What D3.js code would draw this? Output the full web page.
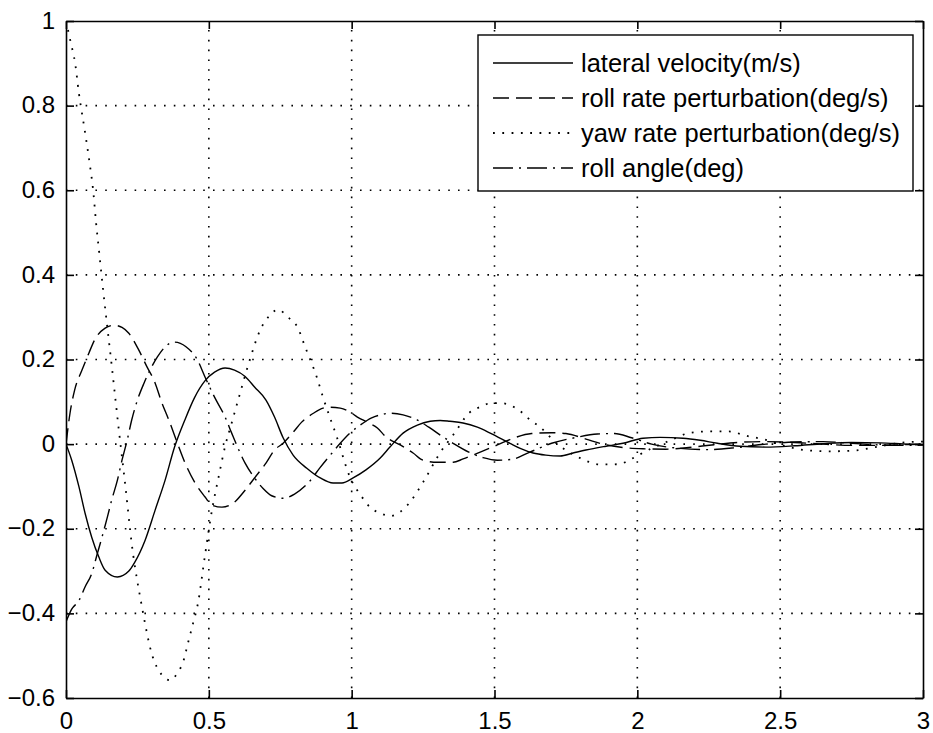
<!DOCTYPE html>
<html>
<head>
<meta charset="utf-8">
<script src="https://cdn.jsdelivr.net/npm/d3@7"></script>
<style>
  body { margin: 0; background: #fff; }
  text { font-family: "Liberation Sans", Arial, sans-serif; fill: #000; }
</style>
</head>
<body>
<svg id="chart"></svg>
<script>
// time (s) and values
const tLat = [0, 0.02, 0.045, 0.067, 0.09, 0.115, 0.137, 0.18, 0.22, 0.24, 0.277, 0.312, 0.347, 0.38, 0.416, 0.45, 0.487, 0.52, 0.557, 0.59, 0.627, 0.66, 0.70, 0.73, 0.76, 0.795, 0.843, 0.89, 0.935, 0.966, 1.005, 1.05, 1.10, 1.134, 1.18, 1.23, 1.275, 1.31, 1.344, 1.39, 1.44, 1.485, 1.554, 1.59, 1.635, 1.68, 1.73, 1.775, 1.82, 1.89, 1.95, 2.02, 2.08, 2.16, 2.22, 2.28, 2.36, 2.45, 2.55, 2.65, 2.75, 2.85, 2.95, 3.0];
const lateralVelocity = [0, -0.038, -0.10, -0.164, -0.22, -0.267, -0.298, -0.314, -0.30, -0.28, -0.227, -0.156, -0.085, -0.007, 0.057, 0.11, 0.15, 0.17, 0.18, 0.175, 0.16, 0.135, 0.104, 0.064, 0.015, -0.026, -0.057, -0.08, -0.092, -0.092, -0.08, -0.061, -0.033, -0.007, 0.026, 0.045, 0.054, 0.056, 0.054, 0.05, 0.04, 0.026, 0.002, -0.01, -0.021, -0.026, -0.028, -0.021, -0.014, -0.005, 0.002, 0.014, 0.016, 0.014, 0.009, 0.002, -0.005, -0.007, -0.004, 0.001, 0.004, 0.003, 0.0, -0.001];

const tRoll = [0, 0.014, 0.03, 0.056, 0.08, 0.10, 0.137, 0.168, 0.196, 0.22, 0.255, 0.284, 0.308, 0.336, 0.36, 0.39, 0.417, 0.452, 0.487, 0.51, 0.546, 0.59, 0.627, 0.66, 0.70, 0.73, 0.76, 0.795, 0.825, 0.866, 0.90, 0.924, 0.96, 0.994, 1.02, 1.06, 1.09, 1.12, 1.17, 1.215, 1.25, 1.30, 1.355, 1.39, 1.45, 1.51, 1.57, 1.63, 1.70, 1.75, 1.82, 1.88, 1.95, 2.02, 2.10, 2.18, 2.26, 2.35, 2.45, 2.55, 2.65, 2.75, 2.85, 2.95, 3.0];
const rollRate = [0, 0.073, 0.127, 0.175, 0.215, 0.246, 0.274, 0.281, 0.276, 0.262, 0.222, 0.182, 0.151, 0.097, 0.057, 0.002, -0.045, -0.092, -0.125, -0.144, -0.149, -0.137, -0.109, -0.08, -0.045, -0.014, 0.002, 0.028, 0.052, 0.073, 0.085, 0.087, 0.085, 0.076, 0.064, 0.05, 0.038, 0.017, -0.002, -0.021, -0.038, -0.043, -0.043, -0.035, -0.019, -0.002, 0.015, 0.025, 0.027, 0.025, 0.012, 0.0, -0.008, -0.011, -0.012, -0.008, -0.002, 0.004, 0.006, 0.004, 0.0, -0.003, -0.003, -0.001, 0.0];

const tYaw = [0, 0.017, 0.032, 0.045, 0.066, 0.082, 0.095, 0.105, 0.115, 0.13, 0.161, 0.185, 0.208, 0.23, 0.266, 0.30, 0.335, 0.364, 0.392, 0.41, 0.427, 0.445, 0.462, 0.485, 0.51, 0.535, 0.557, 0.58, 0.605, 0.637, 0.68, 0.714, 0.742, 0.777, 0.81, 0.837, 0.878, 0.90, 0.948, 0.994, 1.036, 1.064, 1.10, 1.134, 1.17, 1.204, 1.25, 1.31, 1.36, 1.41, 1.45, 1.49, 1.52, 1.555, 1.59, 1.62, 1.66, 1.72, 1.80, 1.83, 1.87, 1.90, 1.94, 1.97, 2.05, 2.12, 2.18, 2.25, 2.32, 2.38, 2.45, 2.52, 2.60, 2.68, 2.76, 2.85, 2.92, 3.0];
const yawRate = [1.0, 0.948, 0.90, 0.83, 0.74, 0.667, 0.60, 0.525, 0.46, 0.364, 0.18, 0.033, -0.10, -0.235, -0.385, -0.495, -0.545, -0.558, -0.539, -0.515, -0.47, -0.423, -0.376, -0.27, -0.16, -0.075, -0.005, 0.05, 0.11, 0.185, 0.27, 0.305, 0.318, 0.30, 0.277, 0.23, 0.158, 0.11, 0.017, -0.078, -0.125, -0.149, -0.163, -0.17, -0.16, -0.137, -0.09, -0.02, 0.026, 0.073, 0.088, 0.097, 0.097, 0.092, 0.078, 0.06, 0.04, 0.0, -0.033, -0.042, -0.048, -0.048, -0.047, -0.038, -0.01, 0.01, 0.026, 0.03, 0.03, 0.02, 0.01, -0.005, -0.015, -0.017, -0.015, -0.005, 0.003, 0.006];

const tAngle = [0, 0.02, 0.045, 0.067, 0.09, 0.11, 0.126, 0.145, 0.16, 0.18, 0.196, 0.214, 0.23, 0.25, 0.273, 0.294, 0.32, 0.347, 0.38, 0.42, 0.46, 0.487, 0.52, 0.557, 0.58, 0.605, 0.627, 0.658, 0.69, 0.72, 0.76, 0.80, 0.85, 0.89, 0.93, 0.96, 0.994, 1.03, 1.07, 1.10, 1.134, 1.18, 1.23, 1.27, 1.32, 1.355, 1.41, 1.46, 1.51, 1.56, 1.62, 1.70, 1.78, 1.86, 1.92, 1.98, 2.05, 2.15, 2.25, 2.35, 2.45, 2.55, 2.65, 2.75, 2.85, 2.95, 3.0];
const rollAngle = [-0.42, -0.39, -0.37, -0.337, -0.306, -0.258, -0.22, -0.172, -0.132, -0.085, -0.038, 0.009, 0.057, 0.104, 0.144, 0.175, 0.206, 0.23, 0.241, 0.23, 0.199, 0.158, 0.111, 0.064, 0.026, -0.014, -0.045, -0.078, -0.105, -0.122, -0.128, -0.118, -0.09, -0.055, -0.022, 0.002, 0.026, 0.045, 0.062, 0.069, 0.073, 0.069, 0.057, 0.04, 0.017, 0.002, -0.019, -0.032, -0.038, -0.036, -0.02, 0.002, 0.015, 0.024, 0.025, 0.015, 0.0, -0.01, -0.013, -0.008, 0.0, 0.005, 0.006, 0.002, -0.002, -0.003, -0.002];

const xTicks = [0, 0.5, 1, 1.5, 2, 2.5, 3];
const yTicks = [-0.6, -0.4, -0.2, 0, 0.2, 0.4, 0.6, 0.8, 1];

const series = [
  {name: "lateral velocity(m/s)", t: tLat, v: lateralVelocity, dash: null, w: 1.4},
  {name: "roll rate perturbation(deg/s)", t: tRoll, v: rollRate, dash: "16,7", w: 1.4},
  {name: "yaw rate perturbation(deg/s)", t: tYaw, v: yawRate, dash: "1.8,7.5", w: 1.8},
  {name: "roll angle(deg)", t: tAngle, v: rollAngle, dash: "20,6,2,6", w: 1.4}
];

const W = 933, H = 733;
const plot = {left: 66, right: 923, top: 21, bottom: 698};

const svg = d3.select("#chart").attr("width", W).attr("height", H);
svg.append("rect").attr("width", W).attr("height", H).attr("fill", "#fff");

const x = d3.scaleLinear().domain([0, 3]).range([plot.left, plot.right]);
const y = d3.scaleLinear().domain([-0.6, 1]).range([plot.bottom, plot.top]);

svg.append("clipPath").attr("id", "clip")
  .append("rect")
  .attr("x", plot.left).attr("y", plot.top)
  .attr("width", plot.right - plot.left).attr("height", plot.bottom - plot.top);

// dotted grid
const grid = svg.append("g").attr("stroke", "#000").attr("stroke-width", 1.6)
  .attr("stroke-dasharray", "1.6,8.2");
grid.selectAll("line.vx").data(xTicks.slice(1, -1)).enter().append("line")
  .attr("x1", d => x(d)).attr("x2", d => x(d))
  .attr("y1", plot.bottom).attr("y2", plot.top);
grid.selectAll("line.hy").data(yTicks.slice(1, -1)).enter().append("line")
  .attr("y1", d => y(d)).attr("y2", d => y(d))
  .attr("x1", plot.left).attr("x2", plot.right);

// curves
const line = d3.line()
  .x(d => x(d[0]))
  .y(d => y(d[1]))
  .curve(d3.curveMonotoneX);

const curves = svg.append("g").attr("clip-path", "url(#clip)");
series.forEach(s => {
  curves.append("path")
    .datum(s.t.map((t, i) => [t, s.v[i]]))
    .attr("d", line)
    .attr("fill", "none")
    .attr("stroke", "#000")
    .attr("stroke-width", s.w)
    .attr("stroke-dasharray", s.dash);
});

// axes box with inward ticks on all sides
const tickLen = 8;
const axB = svg.append("g").attr("transform", `translate(0,${plot.bottom})`)
  .call(d3.axisBottom(x).tickValues(xTicks).tickSizeInner(-tickLen).tickSizeOuter(0).tickPadding(14).tickFormat(d3.format("")));
const axT = svg.append("g").attr("transform", `translate(0,${plot.top})`)
  .call(d3.axisTop(x).tickValues(xTicks).tickSizeInner(-tickLen).tickSizeOuter(0).tickFormat(""));
const axL = svg.append("g").attr("transform", `translate(${plot.left},0)`)
  .call(d3.axisLeft(y).tickValues(yTicks).tickSizeInner(-tickLen).tickSizeOuter(0).tickPadding(11).tickFormat(d3.format("")));
const axR = svg.append("g").attr("transform", `translate(${plot.right},0)`)
  .call(d3.axisRight(y).tickValues(yTicks).tickSizeInner(-tickLen).tickSizeOuter(0).tickFormat(""));

[axB, axT, axL, axR].forEach(a => {
  a.select(".domain").attr("stroke", "#000").attr("stroke-width", 1.6);
  a.selectAll(".tick line").attr("stroke", "#000").attr("stroke-width", 1.6);
  a.selectAll("text").style("font-size", "24px").attr("fill", "#000");
});
axB.selectAll("text").attr("dy", "0.7em");
axL.selectAll("text").attr("dy", "0.3em");

// legend
const lg = {x: 478, y: 35, w: 435, h: 156, row: 35, first: 28};
const legend = svg.append("g");
legend.append("rect")
  .attr("x", lg.x).attr("y", lg.y).attr("width", lg.w).attr("height", lg.h)
  .attr("fill", "#fff").attr("stroke", "#000").attr("stroke-width", 1.4);
series.forEach((s, i) => {
  const cy = lg.y + lg.first + i * lg.row;
  legend.append("line")
    .attr("x1", lg.x + 15).attr("x2", lg.x + 95)
    .attr("y1", cy).attr("y2", cy)
    .attr("stroke", "#000").attr("stroke-width", s.w)
    .attr("stroke-dasharray", s.dash);
  legend.append("text")
    .attr("x", lg.x + 103).attr("y", cy).attr("dy", "0.36em")
    .style("font-size", "25.5px")
    .text(s.name);
});
</script>
</body>
</html>
